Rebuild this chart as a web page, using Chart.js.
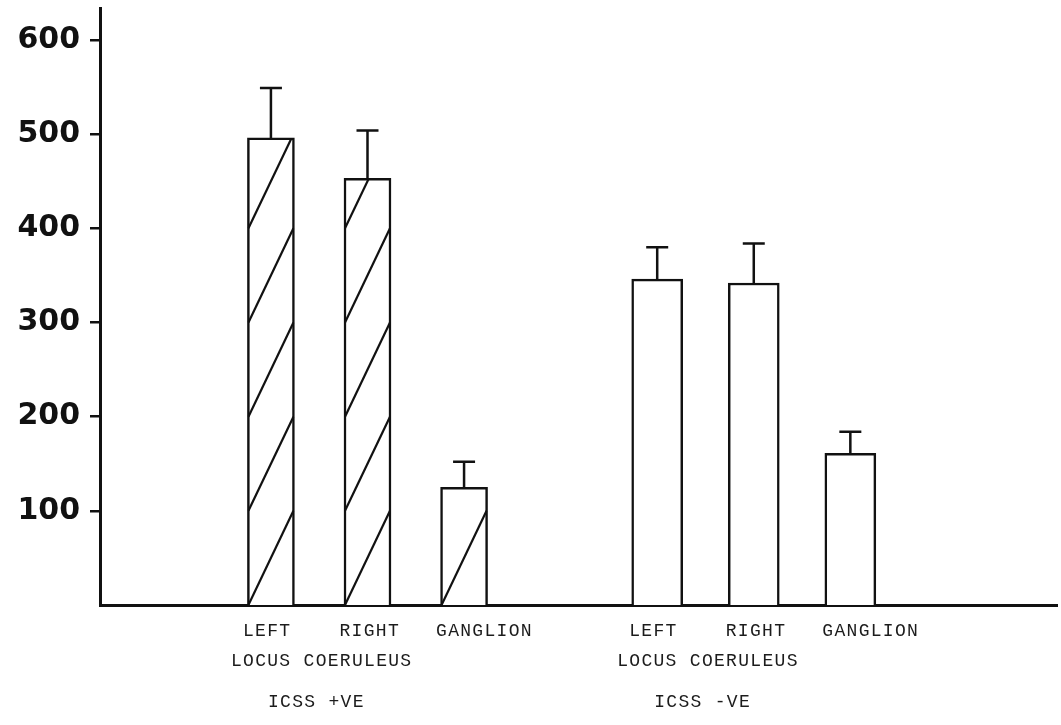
<!DOCTYPE html>
<html>
<head>
<meta charset="utf-8">
<title>Locus coeruleus – ICSS +VE / -VE</title>
<script src="https://cdn.jsdelivr.net/npm/chart.js@4.4.1/dist/chart.umd.min.js"></script>
<style>
  html, body { margin: 0; padding: 0; background: #ffffff; }
  #wrap { width: 1061px; height: 725px; position: relative; }
  canvas { display: block; }
</style>
</head>
<body>
<div id="wrap"><canvas id="chart" width="1061" height="725"></canvas></div>
<script>
// Sub-region labels under each bar
const categories = ['LEFT', 'RIGHT', 'GANGLION'];
// Label spanning the LEFT / RIGHT pair
const regionLabel = 'LOCUS COERULEUS';
// Group captions
const groups = ['ICSS +VE', 'ICSS -VE'];

// Mean values and upper error (SEM) per bar
const icssPositive    = [496, 453, 125];
const icssPositiveSem = [53, 51, 27];
const icssNegative    = [346, 342, 161];
const icssNegativeSem = [34, 42, 23];

// Y axis tick labels
const yTickValues = [100, 200, 300, 400, 500, 600];

// Each group uses three slots; one empty slot separates the groups
const slotOf = (g, i) => g * 4 + i + 1;

const INK = '#111111';
const HATCH_STEP = 100;

// Diagonal hatching for the ICSS +VE bars, one stroke per 100 units
const hatchPlugin = {
  id: 'hatch',
  afterDatasetsDraw(chart) {
    const meta = chart.getDatasetMeta(0);
    const ys = chart.scales.y;
    const ctx = chart.ctx;
    meta.data.forEach((bar, i) => {
      const v = icssPositive[i];
      const half = bar.width / 2;
      const left = bar.x - half, right = bar.x + half;
      ctx.save();
      ctx.beginPath();
      ctx.rect(left, bar.y, right - left, bar.base - bar.y);
      ctx.clip();
      ctx.strokeStyle = INK;
      ctx.lineWidth = 2.2;
      // skip a stroke that would only leave a tiny sliver under the bar top
      for (let k = 0; v - k * HATCH_STEP > HATCH_STEP * 0.35; k++) {
        ctx.beginPath();
        ctx.moveTo(left + 1, ys.getPixelForValue(k * HATCH_STEP));
        ctx.lineTo(right - 1, ys.getPixelForValue((k + 1) * HATCH_STEP));
        ctx.stroke();
      }
      ctx.restore();
    });
  }
};

// Upper error bars with a short cap
const errorBarPlugin = {
  id: 'errorBars',
  afterDatasetsDraw(chart) {
    const ys = chart.scales.y;
    const ctx = chart.ctx;
    const sets = [[icssPositive, icssPositiveSem], [icssNegative, icssNegativeSem]];
    sets.forEach(([vals, sems], d) => {
      chart.getDatasetMeta(d).data.forEach((bar, i) => {
        const yTop = ys.getPixelForValue(vals[i] + sems[i]);
        ctx.save();
        ctx.strokeStyle = INK;
        ctx.lineWidth = 2.5;
        ctx.beginPath();
        ctx.moveTo(bar.x, bar.y);
        ctx.lineTo(bar.x, yTop);
        ctx.moveTo(bar.x - 11, yTop);
        ctx.lineTo(bar.x + 11, yTop);
        ctx.stroke();
        ctx.restore();
      });
    });
  }
};

// Category, region and group captions below the x axis
const captionPlugin = {
  id: 'captions',
  afterDraw(chart) {
    const xs = chart.scales.x;
    const base = chart.chartArea.bottom;
    const ctx = chart.ctx;
    ctx.save();
    ctx.fillStyle = '#1c1c1c';
    ctx.font = '18px "Liberation Mono", "DejaVu Sans Mono", monospace';
    ctx.textAlign = 'left';
    ctx.textBaseline = 'middle';
    if ('letterSpacing' in ctx) ctx.letterSpacing = '1.3px';
    groups.forEach((grp, g) => {
      categories.forEach((c, i) => {
        ctx.fillText(c, xs.getPixelForValue(slotOf(g, i)) - 28, base + 26);
      });
      const first = xs.getPixelForValue(slotOf(g, 0));
      ctx.fillText(regionLabel, first - 40, base + 56);
      ctx.fillText(grp, first - 3, base + 97);
    });
    ctx.restore();
  }
};

new Chart(document.getElementById('chart'), {
  type: 'bar',
  data: {
    datasets: [
      {
        label: groups[0],
        data: icssPositive.map((v, i) => ({ x: slotOf(0, i), y: v })),
        backgroundColor: '#ffffff',
        borderColor: INK,
        borderWidth: 2.5,
        barThickness: 47,
        grouped: false
      },
      {
        label: groups[1],
        data: icssNegative.map((v, i) => ({ x: slotOf(1, i), y: v })),
        backgroundColor: '#ffffff',
        borderColor: INK,
        borderWidth: 2.5,
        barThickness: 51,
        grouped: false
      }
    ]
  },
  options: {
    responsive: false,
    animation: false,
    devicePixelRatio: 1,
    layout: { padding: { left: 0, right: 4, top: 8, bottom: 0 } },
    plugins: {
      legend: { display: false },
      tooltip: { enabled: false },
      title: { display: false }
    },
    scales: {
      x: {
        type: 'linear',
        offset: false,
        bounds: 'data',
        min: -0.77,
        max: 9.14,
        grid: { display: false, offset: false },
        ticks: { display: false },
        border: { display: true, color: INK, width: 3 },
        afterFit(scale) {
          scale.height = 120;
          scale.paddingLeft = 0;
          scale.paddingRight = 0;
        }
      },
      y: {
        type: 'linear',
        min: 0,
        max: 634,
        afterBuildTicks(scale) {
          scale.ticks = yTickValues.map(v => ({ value: v }));
        },
        ticks: {
          color: INK,
          padding: 10,
          font: { family: '"DejaVu Sans", sans-serif', size: 30, weight: 'bold' }
        },
        grid: {
          drawOnChartArea: false,
          drawTicks: true,
          tickLength: 10,
          color: INK,
          lineWidth: 2.5
        },
        border: { display: true, color: INK, width: 3 },
        afterFit(scale) {
          scale.width = 100;
          scale.paddingTop = 0;
          scale.paddingBottom = 0;
        }
      }
    }
  },
  plugins: [hatchPlugin, errorBarPlugin, captionPlugin]
});
</script>
</body>
</html>
